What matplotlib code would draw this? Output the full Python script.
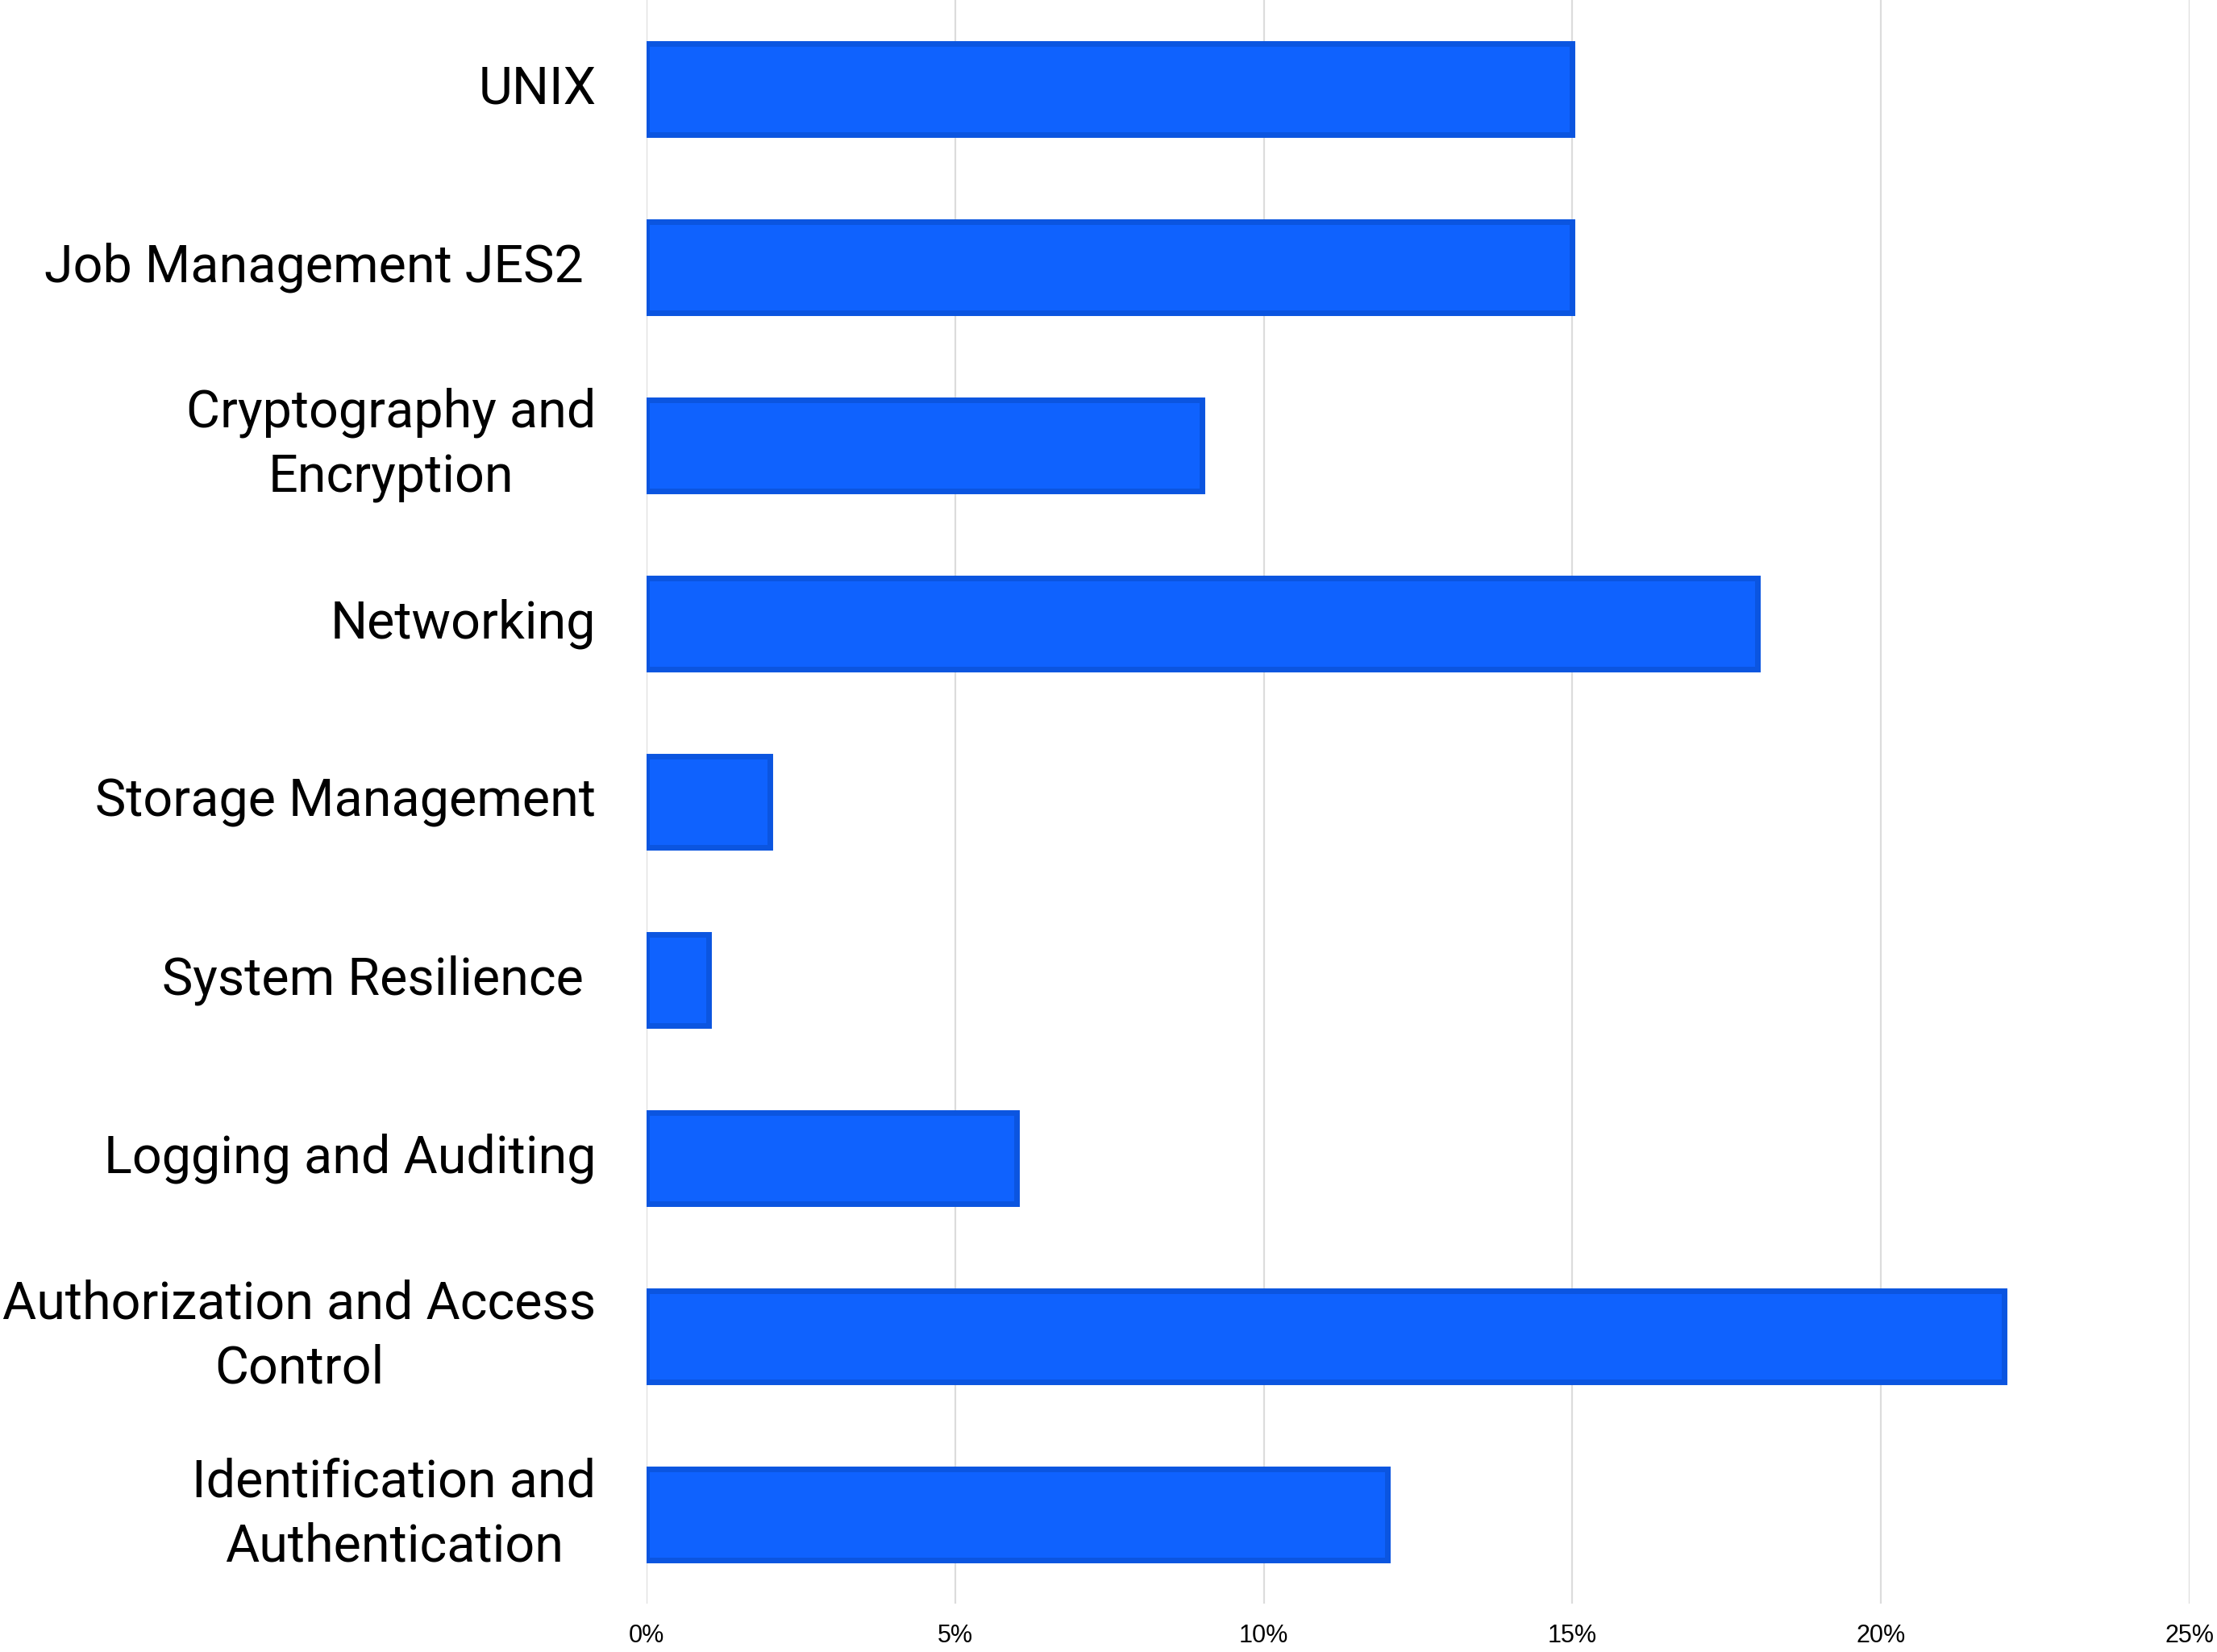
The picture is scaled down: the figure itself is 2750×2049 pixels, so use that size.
import matplotlib
matplotlib.use("Agg")
import matplotlib.pyplot as plt
from matplotlib.ticker import FuncFormatter

categories = [
    "UNIX",
    "Job Management JES2 ",
    "Cryptography and\nEncryption",
    "Networking",
    "Storage Management",
    "System Resilience ",
    "Logging and Auditing",
    "Authorization and Access\nControl",
    "Identification and\nAuthentication",
]
values = [15, 15, 9, 18, 2, 1, 6, 22, 12]
xticks = [0, 5, 10, 15, 20, 25]

DPI = 100
fig = plt.figure(figsize=(27.5, 20.49), dpi=DPI)
ax = fig.add_axes([802 / 2750, 1 - 1989 / 2049, (2716 - 802) / 2750, 1989 / 2049])

ypos = list(range(len(categories)))
ax.barh(ypos, values, height=0.515, color="#0f62fe", edgecolor="#0b55e0",
        linewidth=5.0, zorder=3)

ax.set_xlim(0, 25)
ax.set_ylim(len(categories) - 0.5, -0.5)
ax.set_xticks(xticks)
ax.xaxis.set_major_formatter(FuncFormatter(lambda v, p: f"{int(v)}%"))
ax.set_yticks(ypos)
ax.set_yticklabels(categories, family="Roboto", fontsize=46.5,
                   multialignment="center", linespacing=1.38,
                   verticalalignment="center")
for lab in ax.get_xticklabels():
    lab.set_family("Liberation Sans")
    lab.set_fontsize(22)
ax.tick_params(axis="x", length=0, pad=18)
ax.tick_params(axis="y", length=0, pad=45)
ax.grid(axis="x", color="#dcdcdc", linewidth=1.6, zorder=0)
ax.set_axisbelow(True)
for s in ax.spines.values():
    s.set_visible(False)

fig.savefig("out.png", dpi=DPI, facecolor="white")
